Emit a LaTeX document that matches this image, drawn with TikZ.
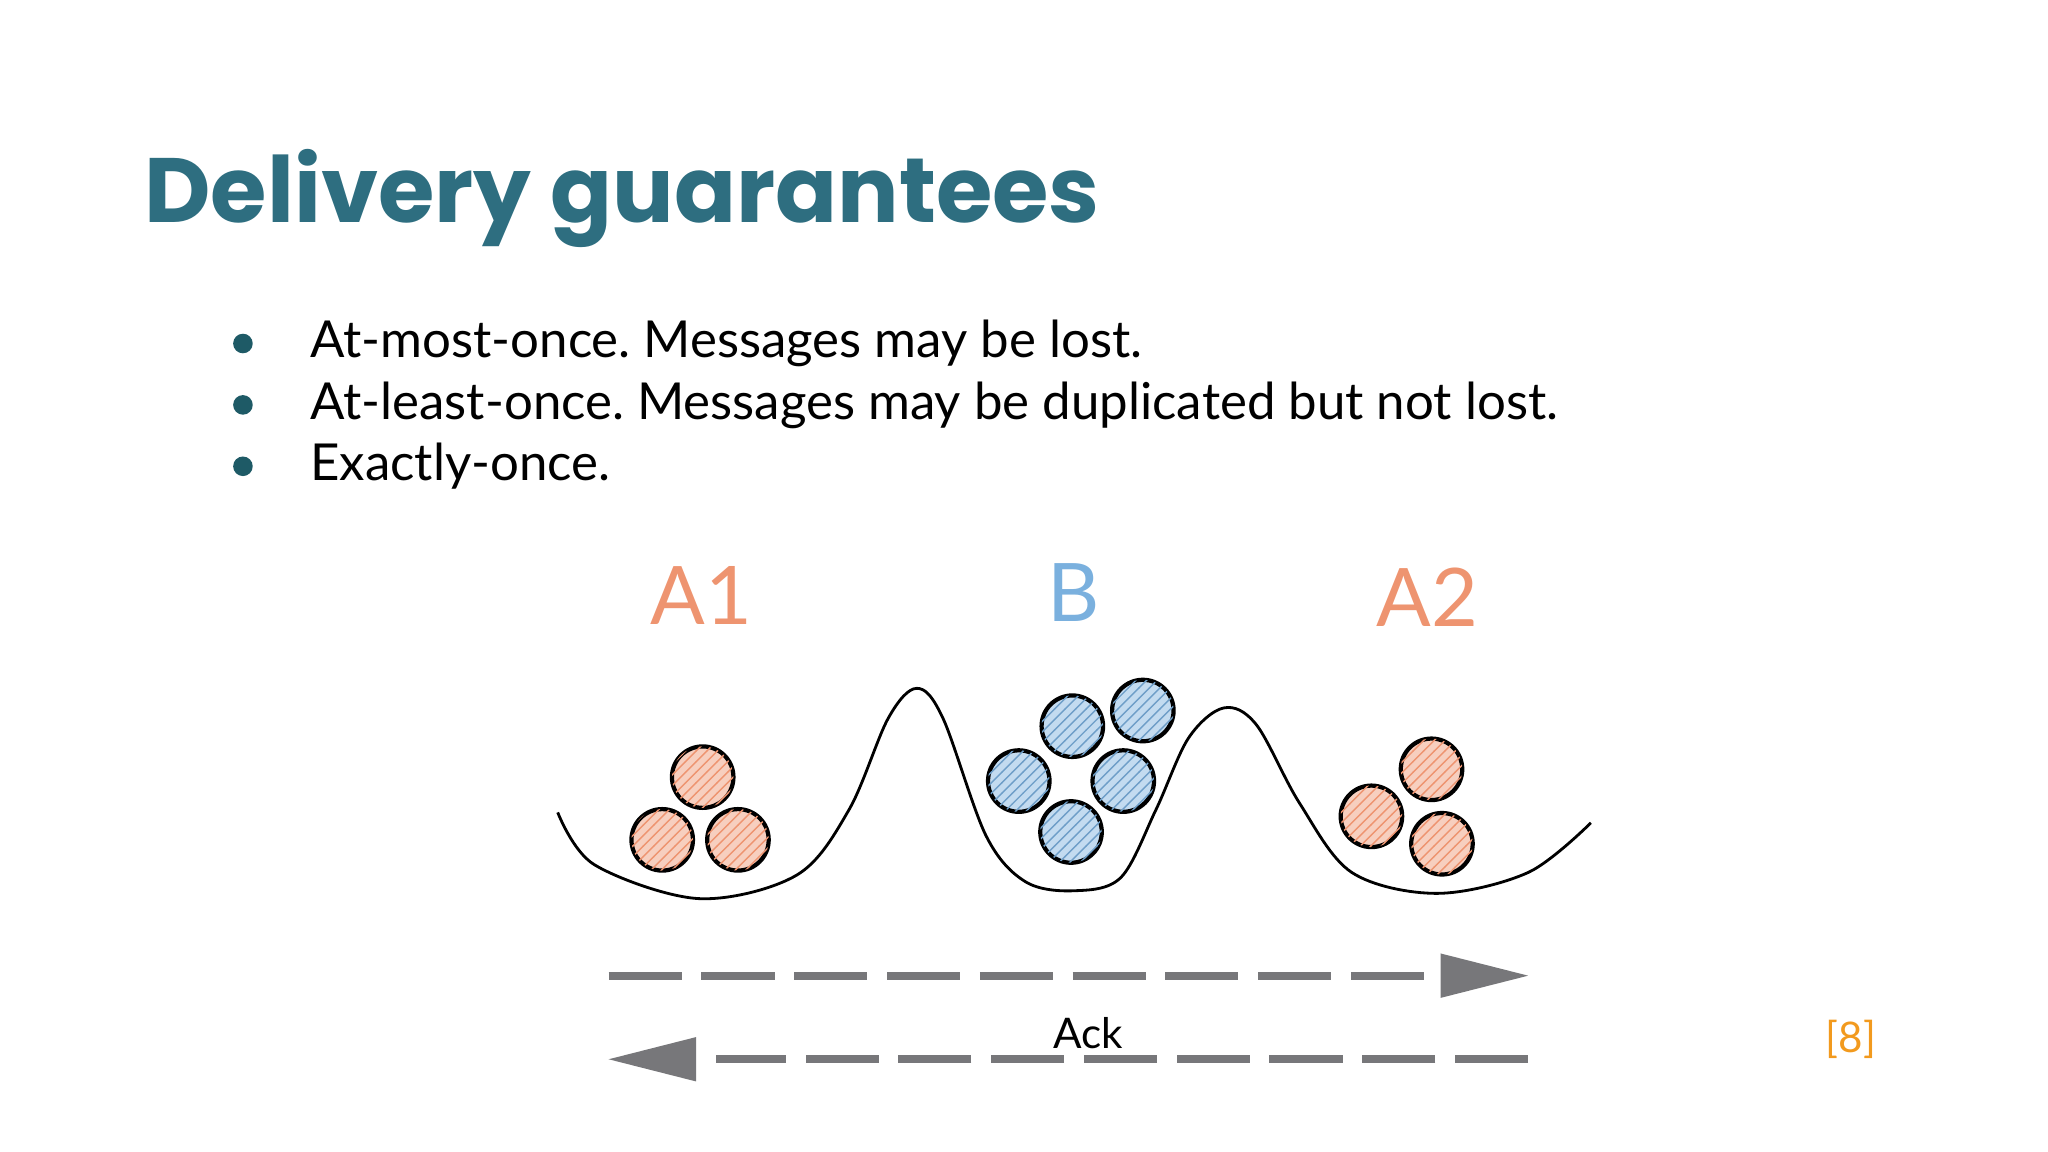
\documentclass[tikz,border=0pt]{standalone}
\usepackage{fontspec}
\setmainfont{Lato}
\newfontfamily\titlefont{Poppins}
\usetikzlibrary{patterns}
\frenchspacing
\definecolor{tealc}{HTML}{2E6E80}
\definecolor{dot}{HTML}{1E5A66}
\definecolor{orng}{HTML}{EE9470}
\definecolor{blu}{HTML}{7AB0DE}
\definecolor{arrg}{HTML}{77777A}
\definecolor{refc}{HTML}{F29A1E}
\tikzset{
 ballA/.style={circle,draw=black,line width=1.2pt,minimum size=17.5pt,inner sep=0pt,fill=orng!45,postaction={pattern=north east lines,pattern color=orng}},
 ballB/.style={circle,draw=black,line width=1.2pt,minimum size=17.5pt,inner sep=0pt,fill=blu!45,postaction={pattern=north east lines,pattern color=blu!90!black}},
 bul/.style={anchor=base west,font=\fontsize{14.5}{18}\selectfont},
 lab/.style={anchor=base,font=\fontsize{23}{26}\selectfont},
 flow/.style={draw=arrg,line width=2.2pt,dash pattern=on 20.8pt off 5.6pt},
 head/.style={fill=arrg,draw=none}
}
\begin{document}
\begin{tikzpicture}[x=0.013061cm,y=-0.013061cm]
\useasboundingbox (0,0) rectangle (1568,882);
\node[anchor=base west,inner sep=0pt,text=tealc,font=\titlefont\bfseries\fontsize{26}{30}\selectfont] (title) at (110,170) {Delivery guarantees};
\foreach \t [count=\i] in {At-most-once. Messages may be lost.,At-least-once. Messages may be duplicated but not lost.,Exactly-once.}{
 \fill[dot] (186,{263+47*(\i-1)}) circle (7.5);
 \node[bul,inner sep=0pt] (b\i) at (237,{274+47*(\i-1)}) {\t};
}
\node[lab,text=orng] (A1) at (537,478) {A1};
\node[lab,text=blu] (B) at (822,476) {B};
\node[lab,text=orng] (A2) at (1093,480) {A2};
\draw[line width=0.8pt] plot[smooth,tension=0.55] coordinates {(427,622) (455,662) (535,688) (610,670) (650,620) (680,550) (702,527) (722,550) (755,640) (785,675) (822,682) (858,672) (885,620) (910,565) (937,542) (962,555) (995,615) (1035,668) (1100,684) (1170,668) (1218,630)};
\node[ballA] (a1) at (538,595) {};
\node[ballA] (a2) at (507,643) {};
\node[ballA] (a3) at (565,643) {};
\node[ballB] (q1) at (821,556) {};
\node[ballB] (q2) at (875,544) {};
\node[ballB] (q3) at (780,598) {};
\node[ballB] (q4) at (860,598) {};
\node[ballB] (q5) at (820,637) {};
\node[ballA] (c1) at (1096,589) {};
\node[ballA] (c2) at (1050,625) {};
\node[ballA] (c3) at (1104,646) {};
\coordinate (s1) at (466,747); \coordinate (e1) at (1100,747);
\draw[flow] (s1) -- (e1);
\fill[head] (1103,730) -- (1170,747) -- (1103,764) -- cycle;
\coordinate (s2) at (1170,811); \coordinate (e2) at (548,811);
\draw[flow] (s2) -- (e2);
\fill[head] (533,794) -- (466,811) -- (533,828) -- cycle;
\node[anchor=base,font=\fontsize{12}{14}\selectfont,fill=white,inner sep=1pt] (ack) at (833,803) {Ack};
\node[anchor=base,text=refc,font=\fontsize{12}{14}\selectfont] (ref) at (1417,806) {[8]};
\end{tikzpicture}
\end{document}
